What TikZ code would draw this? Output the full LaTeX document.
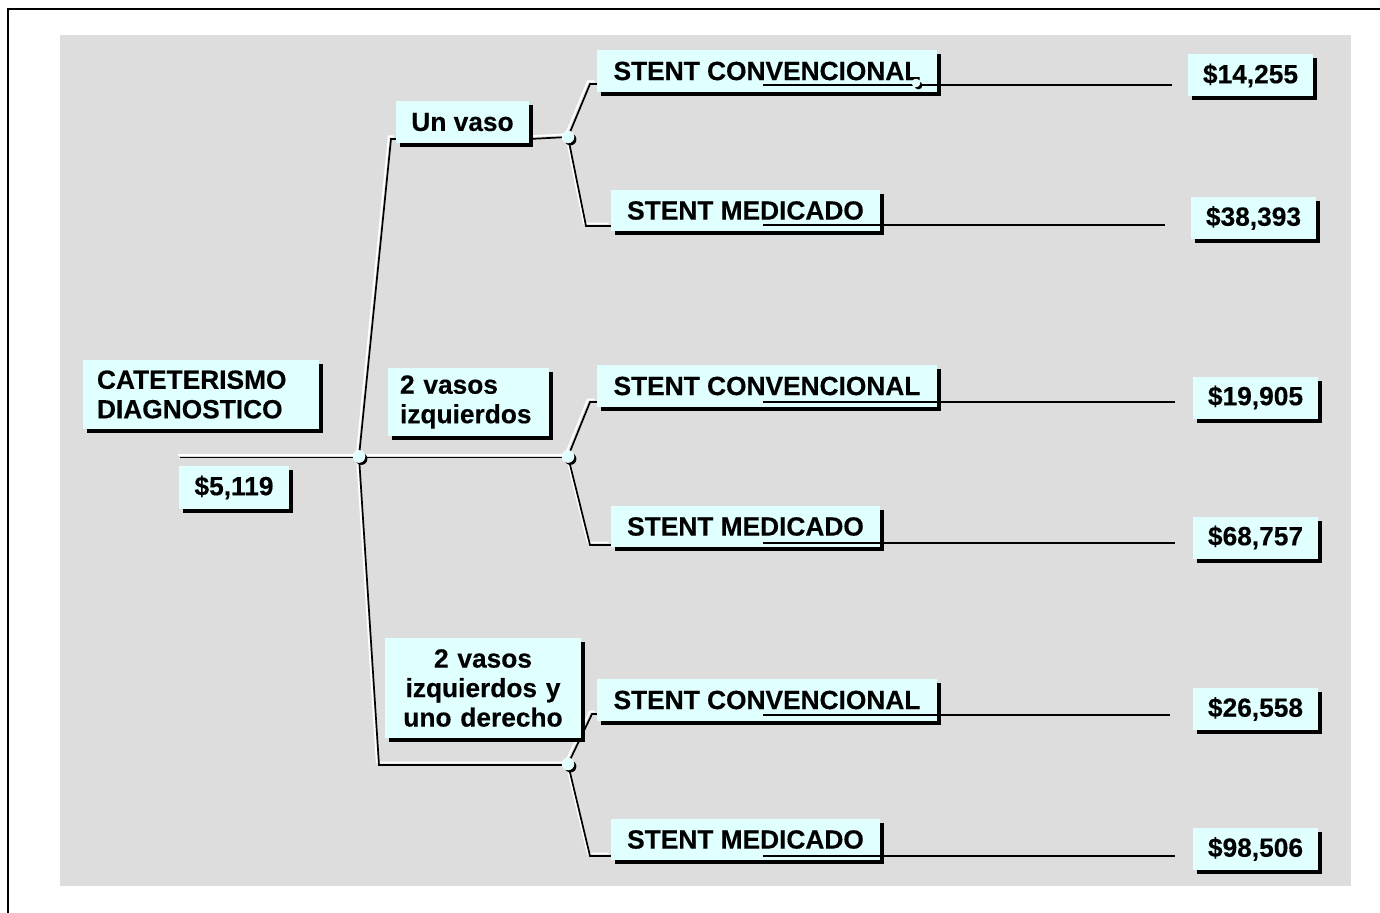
\documentclass[tikz,border=0pt]{standalone}
\usepackage{fontspec}
\setmainfont{Liberation Sans}[BoldFeatures={FakeBold=0.35}]
\usetikzlibrary{shadows,calc}
\definecolor{bggray}{HTML}{DDDDDD}
\definecolor{boxcyan}{HTML}{E0FFFF}
\pgfdeclarelayer{bg}
\pgfdeclarelayer{lines}
\pgfdeclarelayer{front}
\pgfsetlayers{bg,lines,main,front}
\newcommand{\twinline}[1]{%
  \begin{scope}[transform canvas={xshift=-2.2pt,yshift=2.6pt}]\draw[hilite] #1;\end{scope}%
  \draw[conn] #1;}
\begin{document}
\begin{tikzpicture}[x=1pt,y=-1pt,
  lbl/.style={fill=boxcyan, inner sep=0pt, text=black,
    font=\bfseries\fontsize{26.3}{29.5}\selectfont,
    general shadow={fill=black, shadow xshift=4pt, shadow yshift=-4pt}},
  scbox/.style={lbl, minimum width=340pt, minimum height=42pt},
  smbox/.style={lbl, minimum width=269pt, minimum height=41pt},
  valbox/.style={lbl, minimum width=125pt, minimum height=42pt},
  conn/.style={draw=black, line width=1.7pt, line join=miter},
  hilite/.style={draw=white, line width=1.8pt, line join=miter},
  leaf/.style={draw=black, line width=1.6pt},
  jn/.style={circle, fill=boxcyan, draw=white, line width=0.5pt, inner sep=0pt, minimum size=12pt,
    general shadow={fill=black, shadow xshift=2.4pt, shadow yshift=-2.4pt}}
]
\useasboundingbox (0,0) rectangle (1380,912);

\begin{pgfonlayer}{bg}
  \fill[bggray] (60,35) rectangle (1351,886);
  \draw[line width=2pt] (1385,9) -- (8,9) -- (8,920);
\end{pgfonlayer}

% boxes
\node[lbl, text width=208pt, align=left, inner xsep=14pt, minimum height=69pt] (cat) at (201,394.5) {CATETERISMO\\DIAGNOSTICO};
\node[lbl, minimum width=110pt, minimum height=43pt] (root) at (234,487.5) {\$5,119};
\node[lbl, minimum width=133pt, minimum height=42pt] (uno) at (462.5,122) {Un vaso};
\node[lbl, text width=137pt, align=left, inner xsep=12pt, minimum height=68pt] (dos) at (468.5,402) {2 vasos\\izquierdos};
\node[lbl, text width=196pt, align=center, minimum height=100pt] (tres) at (483,688) {2 vasos\\izquierdos y\\uno derecho};

\node[scbox] (sc1) at (767,71) {STENT CONVENCIONAL};
\node[smbox] (sm1) at (745.5,210.5) {STENT MEDICADO};
\node[scbox] (sc2) at (767,386) {STENT CONVENCIONAL};
\node[smbox] (sm2) at (745.5,526.5) {STENT MEDICADO};
\node[scbox] (sc3) at (767,700) {STENT CONVENCIONAL};
\node[smbox] (sm3) at (745.5,839.5) {STENT MEDICADO};

\node[valbox] (v1) at (1250.5,75.5) {\$14,255};
\node[valbox] (v2) at (1253.5,218) {\$38,393};
\node[valbox] (v3) at (1255.5,397.5) {\$19,905};
\node[valbox] (v4) at (1255.5,537.5) {\$68,757};
\node[valbox] (v5) at (1255.5,709) {\$26,558};
\node[valbox] (v6) at (1255.5,849) {\$98,506};

% junctions
\node[jn] (j0) at (359,456.5) {};
\node[jn] (j1) at (568,137) {};
\node[jn] (j2) at (568,456.5) {};
\node[jn] (j3) at (568,764) {};

% bend points and free ends
\coordinate (rs) at (180,457.5);
\coordinate (bu) at (391,139);
\coordinate (bd) at (379,765);
\coordinate (b1u) at (590,84);
\coordinate (b1d) at (586,226);
\coordinate (b2u) at (590,402);
\coordinate (b2d) at (590,545);
\coordinate (b3u) at (592,714);
\coordinate (b3d) at (590,856);

\begin{pgfonlayer}{lines}
  \twinline{(rs) -- (rs -| j0) -- (rs -| j2)}
  \twinline{(j0.center) -- (bu) -- (bu -| uno.west)}
  \twinline{(j0.center) -- (bd) -- (bd -| j3)}
  \twinline{(uno.east |- bu) -- (j1.center)}
  \twinline{(j1.center) -- (b1u) -- (b1u -| sc1.west)}
  \twinline{(j1.center) -- (b1d) -- (b1d -| sm1.west)}
  \twinline{(j2.center) -- (b2u) -- (b2u -| sc2.west)}
  \twinline{(j2.center) -- (b2d) -- (b2d -| sm2.west)}
  \twinline{(j3.center) -- (b3u) -- (b3u -| sc3.west)}
  \twinline{(j3.center) -- (b3d) -- (b3d -| sm3.west)}
\end{pgfonlayer}

% leaf lines (drawn over the boxes, as in the picture)
\coordinate (l1) at (763,85);
\coordinate (l2) at (763,225);
\coordinate (l3) at (763,402);
\coordinate (l4) at (763,543);
\coordinate (l5) at (763,715);
\coordinate (l6) at (763,856);
\begin{pgfonlayer}{front}
  \draw[leaf] (l1) -- ([xshift=-16pt]v1.west |- l1);
  \draw[leaf] (l2) -- ([xshift=-26pt]v2.west |- l2);
  \draw[leaf] (l3) -- ([xshift=-18pt]v3.west |- l3);
  \draw[leaf] (l4) -- ([xshift=-18pt]v4.west |- l4);
  \draw[leaf] (l5) -- ([xshift=-23pt]v5.west |- l5);
  \draw[leaf] (l6) -- ([xshift=-18pt]v6.west |- l6);
  \node[jn, minimum size=8pt] (dotx) at (916,83) {};
\end{pgfonlayer}
\end{tikzpicture}
\end{document}
